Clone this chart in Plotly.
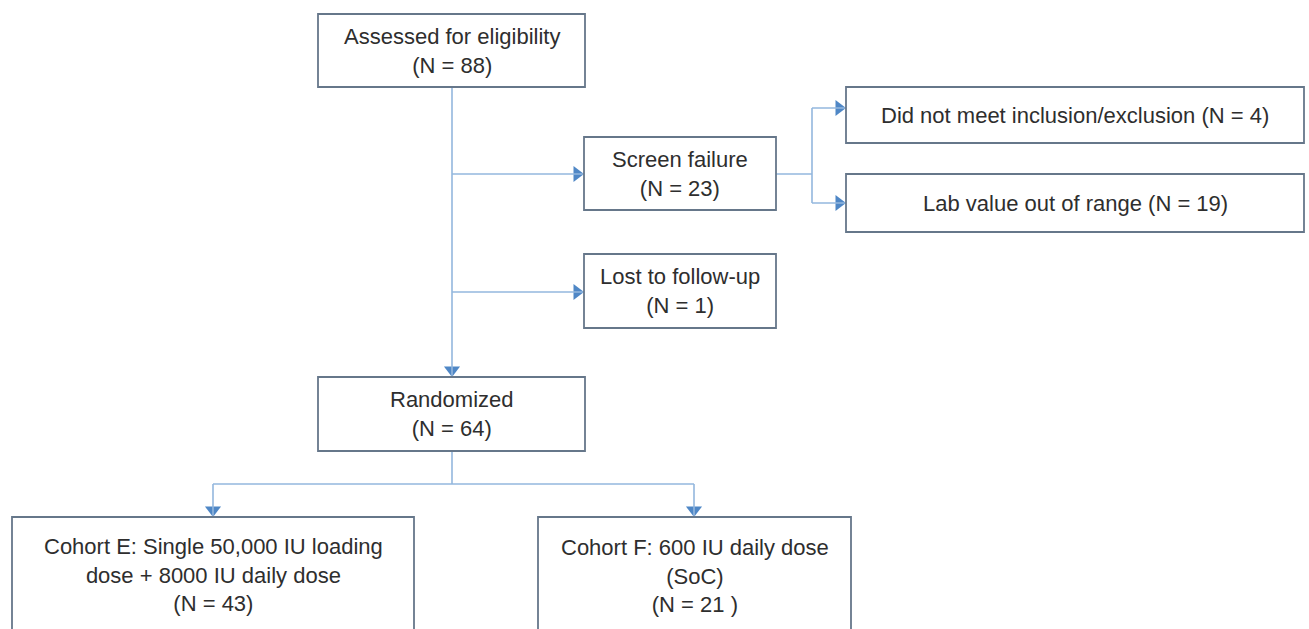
import plotly.graph_objects as go

# ---- content ----
box_labels = [
    "Assessed for eligibility<br>(N = 88)",
    "Screen failure<br>(N = 23)",
    "Lost to follow-up<br>(N = 1)",
    "Did not meet inclusion/exclusion (N = 4)",
    "Lab value out of range (N = 19)",
    "Randomized<br>(N = 64)",
    "Cohort E: Single 50,000 IU loading<br>dose + 8000 IU daily dose<br>(N = 43)",
    "Cohort F: 600 IU daily dose<br>(SoC)<br>(N = 21 )",
]
counts = [88, 23, 1, 4, 19, 64, 43, 21]

# ---- layout geometry (pixel-like canvas coordinates) ----
box_x0 = [318, 584, 584, 846, 846, 318, 12, 538]
box_x1 = [585, 776, 776, 1304, 1304, 585, 414, 851]
box_y0 = [14, 137, 254, 87, 174, 377, 517, 517]
box_y1 = [87, 210, 328, 143, 232, 451, 660, 660]
text_y = [51, 174, 291, 115, 203, 414, 575, 576]

# connector polylines: list of (xs, ys)
connectors = [
    ([452, 452], [87, 377]),
    ([452, 584], [174, 174]),
    ([452, 584], [292, 292]),
    ([776, 812], [174, 174]),
    ([812, 812], [108, 203]),
    ([812, 846], [108, 108]),
    ([812, 846], [203, 203]),
    ([452, 452], [451, 484]),
    ([213, 694], [484, 484]),
    ([213, 213], [484, 517]),
    ([694, 694], [484, 517]),
]
# arrow tips: (x, y, direction)
arrow_tips = [
    (452, 377, "down"),
    (584, 174, "right"),
    (584, 292, "right"),
    (846, 108, "right"),
    (846, 203, "right"),
    (213, 517, "down"),
    (694, 517, "down"),
]

LINE = "#93b7de"
HEAD = "#4f87c6"
BORDER = "#66778a"
TEXT = "#2e2e2e"

fig = go.Figure()

shapes = []
for xs, ys in connectors:
    shapes.append(dict(type="line", xref="x", yref="y",
                       x0=xs[0], x1=xs[1], y0=ys[0], y1=ys[1],
                       line=dict(color=LINE, width=1.6)))
for i in range(len(box_labels)):
    shapes.append(dict(type="rect", xref="x", yref="y",
                       x0=box_x0[i], x1=box_x1[i], y0=box_y0[i], y1=box_y1[i],
                       line=dict(color=BORDER, width=1.8),
                       fillcolor="white", layer="above"))

# arrowheads
hx, hy, hs = [], [], []
for x, y, d in arrow_tips:
    if d == "down":
        hx.append(x); hy.append(y - 7); hs.append("triangle-down")
    else:
        hx.append(x - 7); hy.append(y); hs.append("triangle-right")
fig.add_trace(go.Scatter(x=hx, y=hy, mode="markers",
                         marker=dict(symbol=hs, size=14, color=HEAD,
                                     line=dict(width=0)),
                         hoverinfo="skip", showlegend=False))

annotations = []
for i, lab in enumerate(box_labels):
    annotations.append(dict(x=(box_x0[i] + box_x1[i]) / 2,
                            y=text_y[i], xref="x", yref="y",
                            text=lab, showarrow=False,
                            xanchor="center", yanchor="middle",
                            font=dict(family="Liberation Sans, Arial, sans-serif",
                                      size=22, color=TEXT)))

fig.update_layout(
    width=1309, height=629,
    margin=dict(l=0, r=0, t=0, b=0),
    paper_bgcolor="white", plot_bgcolor="white",
    shapes=shapes, annotations=annotations,
    xaxis=dict(range=[0, 1309], visible=False, fixedrange=True),
    yaxis=dict(range=[629, 0], visible=False, fixedrange=True),
    showlegend=False,
)

fig.write_html("out.html",
               post_script="document.body.style.margin='0';document.body.style.padding='0';document.body.style.overflow='hidden';",
               config={"displayModeBar": False})
